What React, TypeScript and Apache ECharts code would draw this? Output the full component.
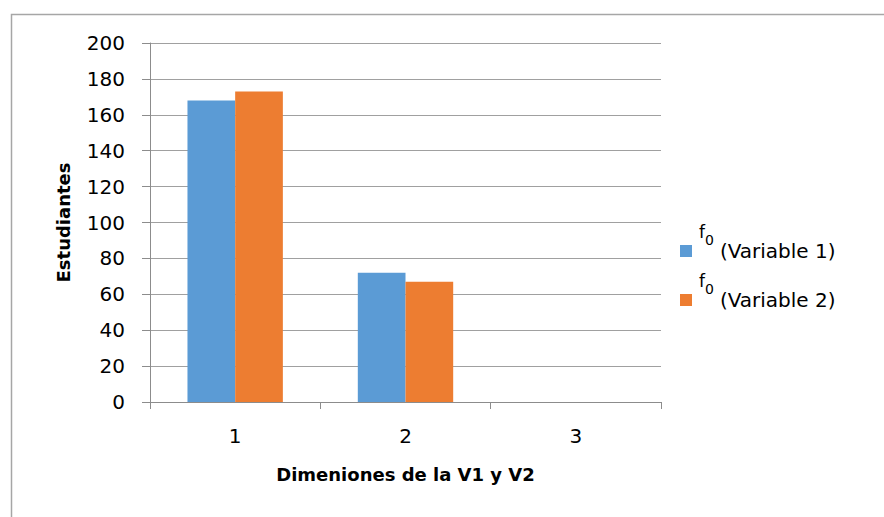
import React, { useEffect, useRef } from "react";
import * as echarts from "echarts";

const categories = ["1", "2", "3"];
const seriesNames = ["f0 (Variable 1)", "f0 (Variable 2)"];
const variable1 = [168, 72, 0];
const variable2 = [173, 67, 0];
const yTicks = { min: 0, max: 200, interval: 20 };
const xTitle = "Dimeniones de la V1 y V2";
const yTitle = "Estudiantes";

const FONT = "'DejaVu Sans', 'Noto Sans', sans-serif";

export default function App() {
  const ref = useRef<HTMLDivElement>(null);
  useEffect(() => {
    document.body.style.margin = "0";
    const chart = echarts.init(ref.current!, null, { renderer: "svg" });
    chart.setOption({
      animation: false,
      backgroundColor: "#ffffff",
      textStyle: { fontFamily: FONT },
      graphic: [
        {
          type: "rect",
          shape: { x: 11.5, y: 14.5, width: 1000, height: 700 },
          style: { fill: "none", stroke: "#a6a6a6", lineWidth: 1.5 },
          silent: true,
          z: -1,
        },
      ],
      grid: { left: 150, right: 223, top: 43, bottom: 115 },
      legend: {
        orient: "vertical",
        left: 680,
        top: 223,
        padding: 0,
        itemWidth: 12,
        itemHeight: 12,
        itemGap: -7,
        icon: "rect",
        data: seriesNames,
        formatter: (name: string) => {
          const rest = name.replace("f0 ", "");
          return `{f|f}{s|0}{t|${rest}}`;
        },
        textStyle: {
          fontFamily: FONT,
          color: "#000",
          padding: [0, 0, 0, 2],
          rich: {
            f: { fontSize: 17, lineHeight: 18, fontFamily: FONT, color: "#000", padding: [0, 0, 39, 0] },
            s: { fontSize: 14, lineHeight: 16, fontFamily: FONT, color: "#000", padding: [0, 6, 22, 0] },
            t: { fontSize: 20, lineHeight: 24, fontFamily: FONT, color: "#000" },
          },
        },
      },
      xAxis: {
        type: "category",
        data: categories,
        name: xTitle,
        nameLocation: "middle",
        nameGap: 63,
        nameTextStyle: { fontSize: 18, fontWeight: "bold", color: "#000", fontFamily: FONT },
        axisLine: { show: true, lineStyle: { color: "#8c8c8c", width: 1 } },
        axisTick: { show: true, length: 7, lineStyle: { color: "#8c8c8c" } },
        axisLabel: { fontSize: 20, color: "#000", margin: 24, fontFamily: FONT },
        splitLine: { show: false },
      },
      yAxis: {
        type: "value",
        min: yTicks.min,
        max: yTicks.max,
        interval: yTicks.interval,
        name: yTitle,
        nameLocation: "middle",
        nameGap: 78,
        nameTextStyle: { fontSize: 18, fontWeight: "bold", color: "#000", fontFamily: FONT },
        axisLine: { show: true, lineStyle: { color: "#8c8c8c", width: 1 } },
        axisTick: { show: true, length: 8, lineStyle: { color: "#8c8c8c" } },
        axisLabel: { fontSize: 20, color: "#000", margin: 25, fontFamily: FONT },
        splitLine: { show: true, lineStyle: { color: "#a0a0a0", width: 1 } },
      },
      series: [
        {
          name: seriesNames[0],
          type: "bar",
          data: variable1,
          itemStyle: { color: "#5b9bd5" },
          barGap: "0%",
          barCategoryGap: "44%",
        },
        {
          name: seriesNames[1],
          type: "bar",
          data: variable2,
          itemStyle: { color: "#ed7d31" },
          barGap: "0%",
          barCategoryGap: "44%",
        },
      ],
    });
    return () => chart.dispose();
  }, []);
  return (
    <div
      ref={ref}
      style={{ position: "fixed", left: 0, top: 0, width: 884, height: 517 }}
    />
  );
}
